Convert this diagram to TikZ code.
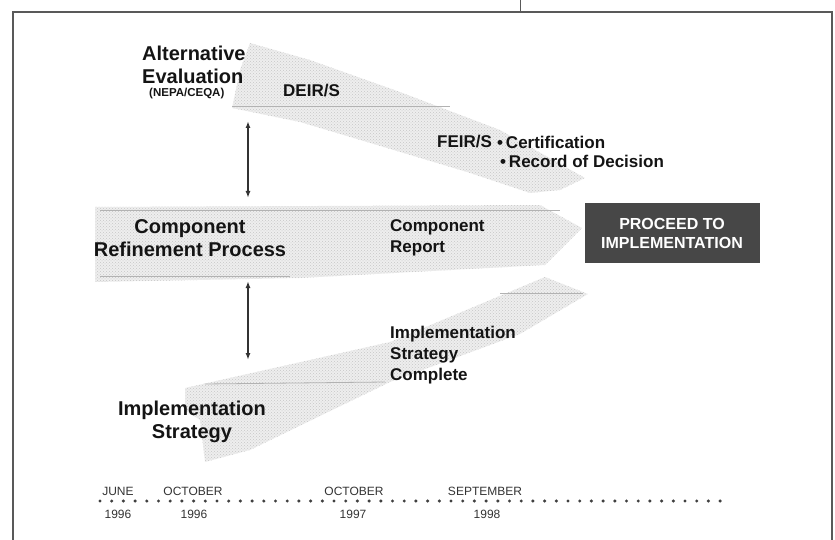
\documentclass[tikz,border=0pt]{standalone}
\usepackage{fontspec}
\setmainfont{Liberation Sans}
\usetikzlibrary{positioning,arrows.meta,patterns}

\begin{document}
\begin{tikzpicture}[x=1pt, y=-1pt,
  every node/.style = {inner sep=0pt, text=black!92},
  band/.style = {fill=gray!13, draw=none, postaction={pattern=crosshatch dots, pattern color=gray!45}},
  streak/.style = {draw=gray!60, line width=0.8pt},
  biglabel/.style = {font=\fontsize{20}{23}\selectfont\bfseries, align=center},
  midlabel/.style = {font=\fontsize{17}{21}\selectfont\bfseries, align=left, anchor=west},
  datelabel/.style = {font=\fontsize{12}{13}\selectfont, text=black!80},
  linkarrow/.style = {{Latex[length=7pt,width=5pt]}-{Latex[length=7pt,width=5pt]}, line width=2.4pt, draw=black!80}
]
\useasboundingbox (0,0) rectangle (835,540);
% frame
\draw[line width=1.6pt, black!65] (13,540) -- (13,12) -- (832,12) -- (832,540);
\draw[line width=1pt, black!65] (520,0) -- (520,12);

% bands
\fill[band] (250,43) -- (310,60) -- (400,92) -- (500,130) -- (585,178) -- (560,190) -- (530,193)
  -- (467,172) -- (367,142) -- (300,122) -- (232,108) -- (240,70) -- cycle;
\fill[band] (95,207) -- (540,205) -- (582,228) -- (545,265) -- (300,278) -- (95,282) -- cycle;
\fill[band] (185,388) -- (390,342) -- (545,277) -- (588,294) -- (520,334) -- (390,382)
  -- (250,450) -- (205,462) -- (200,420) -- (185,410) -- cycle;
\draw[streak] (232,106) -- (450,106);
\draw[streak] (100,210) -- (560,210);
\draw[streak] (100,276) -- (290,276);
\draw[streak] (205,384) -- (385,382);
\draw[streak] (500,293) -- (583,293);

% labels
\node (alt) [anchor=west, font=\fontsize{20}{23}\selectfont\bfseries] at (142,53) {Alternative};
\node (eval) [anchor=west, font=\fontsize{20}{23}\selectfont\bfseries] at (142,76) {Evaluation};
\node (nepa) [anchor=west, font=\fontsize{11.5}{12}\selectfont\bfseries] at (149,94) {(NEPA/CEQA)};
\node (deir) [midlabel] at (283,91) {DEIR/S};
\node (feir) [midlabel] at (437,142) {FEIR/S};
\node (cert) [midlabel] at (497,142) {•\,Certification};
\node (rod) [midlabel] at (500,161) {•\,Record of Decision};
\node (crp) [biglabel] at (190,238) {Component\\Refinement Process};
\node (crep) [midlabel] at (390,238) {Component\\Report};
\node (isc) [midlabel] at (390,355) {Implementation\\Strategy\\Complete};
\node (istr) [biglabel] at (192,422) {Implementation\\Strategy};

\node (proceed) [fill=black!72, minimum width=175pt, minimum height=60pt, align=center,
  text=white, font=\fontsize{16}{19}\selectfont\bfseries] at (672,233) {PROCEED TO\\IMPLEMENTATION};

% links
\coordinate (topA) at (248,121);
\coordinate (topB) at (248,198);
\coordinate (botA) at (248,281);
\coordinate (botB) at (248,360);
\draw[linkarrow] (topA) -- (topB);
\draw[linkarrow] (botA) -- (botB);

% time line
\foreach \i in {0,...,53}
  \fill[black!75] (100+\i*11.7, 501) circle (1.7pt);
\node (m1) [datelabel] at (118,491) {JUNE};
\node (m2) [datelabel] at (193,491) {OCTOBER};
\node (m3) [datelabel] at (354,491) {OCTOBER};
\node (m4) [datelabel] at (485,491) {SEPTEMBER};
\node (y1) [datelabel] at (118,514) {1996};
\node (y2) [datelabel] at (194,514) {1996};
\node (y3) [datelabel] at (353,514) {1997};
\node (y4) [datelabel] at (487,514) {1998};
\end{tikzpicture}
\end{document}
